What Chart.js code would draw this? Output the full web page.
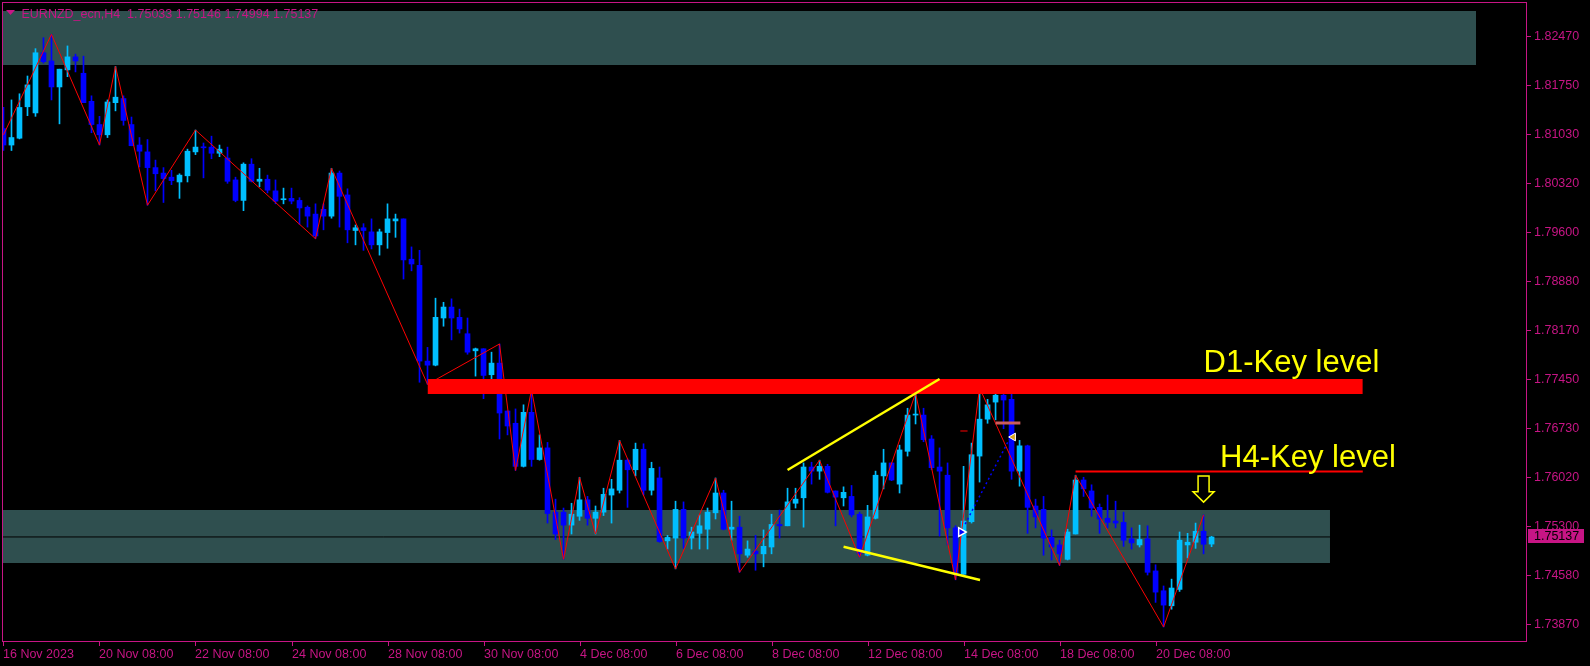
<!DOCTYPE html>
<html>
<head>
<meta charset="utf-8">
<script src="https://cdn.jsdelivr.net/npm/chart.js@4.4.1/dist/chart.umd.min.js"></script>
<style>
  html, body { margin: 0; padding: 0; background: #000; }
  #wrap { width: 1590px; height: 666px; position: relative; }
</style>
</head>
<body>
<div id="wrap"><canvas id="chart" width="1590" height="666"></canvas></div>
<script>
// EURNZD_ecn H4 candles
const opens = [
  1.8111,1.8087,1.8097,1.8143,1.8134,1.8222,1.8210,1.8172,1.8197,1.8216,
  1.8192,1.8151,1.8117,1.8102,1.8149,1.8155,1.8117,1.8087,1.8077,1.8054,
  1.8046,1.8040,1.8033,1.8042,1.8077,1.8084,1.8084,1.8075,1.8068,1.8036,
  1.8006,1.8059,1.8034,1.8037,1.8020,1.8007,1.8009,1.8006,1.7996,1.7986,
  1.7993,1.7983,1.8046,1.8014,1.7962,1.7966,1.7960,1.7941,1.7959,1.7976,
  1.7979,1.7920,1.7911,1.7771,1.7765,1.7834,1.7850,1.7835,1.7811,1.7786,
  1.7789,1.7751,1.7768,1.7698,1.7680,1.7617,1.7696,1.7627,1.7644,1.7550,
  1.7550,1.7531,1.7544,1.7568,1.7541,1.7550,1.7575,1.7582,1.7626,1.7612,
  1.7642,1.7582,1.7600,1.7508,1.7512,1.7554,1.7512,1.7519,1.7525,1.7549,
  1.7578,1.7525,1.7528,1.7487,1.7493,1.7489,1.7499,1.7532,1.7530,1.7563,
  1.7571,1.7616,1.7610,1.7617,1.7581,1.7571,1.7573,1.7547,1.7487,1.7541,
  1.7603,1.7622,1.7591,1.7639,1.7692,1.7692,1.7657,1.7616,1.7604,1.7527,
  1.7459,1.7536,1.7632,1.7686,1.7711,1.7721,1.7715,1.7610,1.7647,1.7559,
  1.7554,1.7513,1.7502,1.7481,1.7518,1.7597,1.7581,1.7557,1.7541,1.7537,
  1.7535,1.7511,1.7502,1.7511,1.7464,1.7435,1.7413,1.7437,1.7502,1.7506,
  1.7522,1.75033
];
const highs = [
  1.8142,1.8153,1.8162,1.8188,1.8228,1.8244,1.8249,1.8198,1.8232,1.8220,
  1.8217,1.8159,1.8129,1.8153,1.8202,1.8159,1.8128,1.8098,1.8095,1.8065,
  1.8054,1.8050,1.8045,1.8081,1.8109,1.8090,1.8100,1.8087,1.8084,1.8040,
  1.8061,1.8067,1.8053,1.8043,1.8036,1.8024,1.8024,1.8010,1.7998,1.8001,
  1.8001,1.8053,1.8049,1.8023,1.7970,1.7972,1.7979,1.7964,1.8001,1.7986,
  1.7979,1.7938,1.7933,1.7791,1.7863,1.7857,1.7862,1.7847,1.7834,1.7790,
  1.7789,1.7784,1.7796,1.7698,1.7701,1.7707,1.7729,1.7663,1.7652,1.7569,
  1.7556,1.7563,1.7601,1.7573,1.7559,1.7585,1.7598,1.7655,1.7628,1.7651,
  1.7650,1.7623,1.7616,1.7516,1.7566,1.7565,1.7528,1.7546,1.7556,1.7600,
  1.7582,1.7566,1.7544,1.7508,1.7516,1.7524,1.7547,1.7553,1.7585,1.7585,
  1.7622,1.7623,1.7626,1.7620,1.7581,1.7587,1.7589,1.7550,1.7560,1.7610,
  1.7642,1.7622,1.7648,1.7702,1.7724,1.7702,1.7662,1.7644,1.7622,1.7530,
  1.7617,1.7651,1.7732,1.7715,1.7727,1.7723,1.7733,1.7655,1.7648,1.7569,
  1.7573,1.7524,1.7509,1.7525,1.7604,1.7601,1.7590,1.7562,1.7575,1.7566,
  1.7550,1.7527,1.7531,1.7530,1.7473,1.7442,1.7452,1.7521,1.7519,1.7534,
  1.7546,1.75146
];
const lows = [
  1.8079,1.8079,1.8096,1.8130,1.8129,1.8207,1.8153,1.8118,1.8187,1.8194,
  1.8149,1.8105,1.8087,1.8098,1.8137,1.8116,1.8086,1.8055,1.7999,1.8020,
  1.8003,1.8029,1.8009,1.8033,1.8073,1.8039,1.8067,1.8070,1.8031,1.8004,
  1.7991,1.8033,1.8026,1.8017,1.8001,1.8001,1.8001,1.7971,1.7967,1.7950,
  1.7963,1.7980,1.7967,1.7944,1.7941,1.7933,1.7935,1.7926,1.7936,1.7952,
  1.7891,1.7903,1.7740,1.7737,1.7764,1.7822,1.7802,1.7812,1.7781,1.7749,
  1.7716,1.7745,1.7657,1.7663,1.7611,1.7616,1.7617,1.7626,1.7534,1.7510,
  1.7481,1.7518,1.7538,1.7531,1.7518,1.7545,1.7534,1.7578,1.7557,1.7603,
  1.7575,1.7575,1.7506,1.7496,1.7467,1.7497,1.7496,1.7496,1.7496,1.7540,
  1.7524,1.7509,1.7462,1.7484,1.7465,1.7470,1.7489,1.7512,1.7530,1.7556,
  1.7528,1.7591,1.7598,1.7578,1.7530,1.7559,1.7543,1.7484,1.7486,1.7540,
  1.7584,1.7596,1.7578,1.7632,1.7679,1.7653,1.7612,1.7515,1.7502,1.7451,
  1.7459,1.7534,1.7594,1.7680,1.7685,1.7672,1.7598,1.7588,1.7519,1.7527,
  1.7487,1.7480,1.7472,1.7480,1.7518,1.7573,1.7544,1.7519,1.7527,1.7527,
  1.7500,1.7496,1.7499,1.7458,1.7418,1.7382,1.7408,1.7434,1.7483,1.7497,
  1.7489,1.74994
];
const closes = [
  1.8087,1.8098,1.8142,1.8175,1.8222,1.8209,1.8172,1.8198,1.8216,1.8210,
  1.8149,1.8117,1.8102,1.8150,1.8157,1.8123,1.8086,1.8078,1.8054,1.8045,
  1.8038,1.8035,1.8043,1.8078,1.8084,1.8083,1.8075,1.8081,1.8034,1.8006,
  1.8059,1.8034,1.8037,1.8021,1.8005,1.8008,1.8005,1.7995,1.7983,1.7954,
  1.7983,1.8046,1.8012,1.7963,1.7966,1.7962,1.7941,1.7960,1.7979,1.7979,
  1.7919,1.7913,1.7771,1.7765,1.7835,1.7850,1.7834,1.7818,1.7784,1.7789,
  1.7750,1.7768,1.7695,1.7676,1.7617,1.7696,1.7627,1.7644,1.7548,1.7518,
  1.7531,1.7547,1.7568,1.7541,1.7550,1.7576,1.7584,1.7626,1.7612,1.7642,
  1.7582,1.7614,1.7507,1.7513,1.7554,1.7512,1.7521,1.7530,1.7550,1.7578,
  1.7525,1.7528,1.7489,1.7496,1.7489,1.7500,1.7532,1.7530,1.7565,1.7569,
  1.7616,1.7610,1.7617,1.7579,1.7572,1.7579,1.7546,1.7489,1.7543,1.7604,
  1.7622,1.7597,1.7641,1.7692,1.7693,1.7656,1.7615,1.7610,1.7527,1.7459,
  1.7537,1.7634,1.7686,1.7707,1.7721,1.7714,1.7610,1.7647,1.7557,1.7543,
  1.7512,1.7499,1.7489,1.7521,1.7597,1.7584,1.7556,1.7540,1.7535,1.7534,
  1.7509,1.7505,1.7510,1.7462,1.7433,1.7414,1.7439,1.7509,1.7506,1.7522,
  1.7503,1.75137
];

// zigzag turning points [bar index, price]
const zigzag = [
  [0,1.8102],[6,1.8249],[12,1.8087],[14,1.8202],[18,1.7999],[24,1.8109],
  [39,1.7950],[41,1.8053],[53,1.7737],[62,1.7796],[64,1.7611],[66,1.7729],
  [70,1.7481],[72,1.7601],[74,1.7518],[77,1.7655],[84,1.7467],[89,1.7600],
  [92,1.7462],[102,1.7626],[107,1.7484],[114,1.7724],[119,1.7451],[122,1.7732],
  [132,1.7472],[134,1.7604],[145,1.7382],[150,1.7546]
];

// zones: [fromBar, toBar, top, bottom]
const upperZone = [-3, 184.06, 1.82831, 1.82041];
const lowerZone = [-3, 165.8, 1.75532, 1.74757];
const d1Band = [53, 169.9, 1.77448, 1.77229];
const h4Level = [134, 169.9, 1.76095];
const wedgeUpper = [[98, 1.76117], [117, 1.77448]];
const wedgeLower = [[105, 1.74995], [122.06, 1.74508]];
const signalDots = [[120.2, 1.75326], [125.8, 1.76584]];
const stopMark = [[124.0, 1.76804], [127.1, 1.76804]];
const smallDash = [[119.6, 1.76687], [120.5, 1.76687]];
const entryArrow = [119.7, 1.75209];
const exitArrow = [126.2, 1.76599];
const downArrow = [150, 1.76027, 1.75647];
const d1Label = ['D1-Key level', 150, 1.77546];
const h4Label = ['H4-Key level', 152.06, 1.76165];

// axis ticks
const yTicks = [1.82470,1.81750,1.81030,1.80320,1.79600,1.78880,1.78170,1.77450,1.76730,1.76020,1.75300,1.74580,1.73870];
const xTickIdx = [0,12,24,36,48,60,72,84,96,108,120,132,144];
const xTickLabels = ['16 Nov 2023','20 Nov 08:00','22 Nov 08:00','24 Nov 08:00','28 Nov 08:00','30 Nov 08:00','4 Dec 08:00','6 Dec 08:00','8 Dec 08:00','12 Dec 08:00','14 Dec 08:00','18 Dec 08:00','20 Dec 08:00'];

const BULL = '#00BFFF';
const BEAR = '#0000FF';
const MAGENTA = '#C71585';
const ZONE = '#2F4F4F';
const FONT = '"Liberation Sans", Arial, sans-serif';

const idx = opens.map((_, i) => i);
const candleColors = idx.map(i => (closes[i] >= opens[i] ? BULL : BEAR));
const last = closes.length - 1;

const seg = (pts) => pts.map(p => ({ x: p[0], y: p[1] }));
const flat = (a, b, v) => [{ x: a, y: v }, { x: b, y: v }];
const noLine = 'rgba(0,0,0,0)';

// =======================================================
// DECORATIONS: frame, axes, title, labels
// =======================================================
const decor = {
  id: 'decor',
  afterDraw(chart) {
    const { ctx, chartArea: a, scales: { x, y } } = chart;
    ctx.save();

    // frame
    ctx.strokeStyle = MAGENTA;
    ctx.lineWidth = 1;
    ctx.strokeRect(2.5, 2.5, a.right - 2, a.bottom - 2);

    // price axis
    ctx.font = `12.5px ${FONT}`;
    ctx.fillStyle = MAGENTA;
    ctx.textAlign = 'left';
    ctx.textBaseline = 'middle';
    yTicks.forEach(v => {
      const py = Math.round(y.getPixelForValue(v)) + 0.5;
      ctx.beginPath();
      ctx.moveTo(a.right + 1, py);
      ctx.lineTo(a.right + 5, py);
      ctx.stroke();
      ctx.fillText(v.toFixed(5), a.right + 8, py + 0.5);
    });

    // current price box
    const cp = y.getPixelForValue(closes[last]);
    ctx.fillStyle = MAGENTA;
    ctx.fillRect(a.right + 2, Math.round(cp) - 8, 56, 14);
    ctx.fillStyle = '#000';
    ctx.fillText(closes[last].toFixed(5), a.right + 8, Math.round(cp) - 0.5);

    // time axis
    ctx.fillStyle = MAGENTA;
    ctx.textBaseline = 'alphabetic';
    xTickIdx.forEach((i, k) => {
      const px = Math.round(x.getPixelForValue(i)) + 0.5;
      ctx.beginPath();
      ctx.moveTo(px, a.bottom + 1);
      ctx.lineTo(px, a.bottom + 5);
      ctx.stroke();
      ctx.fillText(xTickLabels[k], px - 0.5, 658);
    });

    // title
    ctx.beginPath();
    ctx.moveTo(6, 10);
    ctx.lineTo(15, 10);
    ctx.lineTo(10.5, 15);
    ctx.closePath();
    ctx.fill();
    const f = v => v.toFixed(5);
    ctx.font = `12.5px ${FONT}`;
    ctx.fillText(`EURNZD_ecn,H4  ${f(opens[last])} ${f(highs[last])} ${f(lows[last])} ${f(closes[last])}`, 21.5, 17.5);

    // key level captions
    ctx.font = `31px ${FONT}`;
    ctx.fillStyle = '#FFFF00';
    [d1Label, h4Label].forEach(([t, i, p]) => {
      ctx.fillText(t, x.getPixelForValue(i), y.getPixelForValue(p));
    });

    // hollow down arrow
    const ax = x.getPixelForValue(downArrow[0]);
    const top = y.getPixelForValue(downArrow[1]);
    const tip = y.getPixelForValue(downArrow[2]);
    const neck = top + (tip - top) * 0.6;
    ctx.beginPath();
    ctx.moveTo(ax - 5.5, top);
    ctx.lineTo(ax + 5.5, top);
    ctx.lineTo(ax + 5.5, neck);
    ctx.lineTo(ax + 10.5, neck);
    ctx.lineTo(ax, tip);
    ctx.lineTo(ax - 10.5, neck);
    ctx.lineTo(ax - 5.5, neck);
    ctx.closePath();
    ctx.fillStyle = '#000';
    ctx.fill();
    ctx.strokeStyle = '#FFFF00';
    ctx.lineWidth = 1.5;
    ctx.stroke();

    ctx.restore();
  }
};

const chart = new Chart(document.getElementById('chart').getContext('2d'), {
  type: 'bar',
  data: {
    datasets: [
      // zones at the back
      {
        type: 'line', data: flat(upperZone[0], upperZone[1], upperZone[2]),
        fill: { value: upperZone[3] }, backgroundColor: ZONE,
        borderColor: noLine, borderWidth: 0, pointRadius: 0, order: 20
      },
      {
        type: 'line', data: flat(lowerZone[0], lowerZone[1], lowerZone[2]),
        fill: { value: lowerZone[3] }, backgroundColor: ZONE,
        borderColor: noLine, borderWidth: 0, pointRadius: 0, order: 20
      },
      // bid line
      {
        type: 'line', data: flat(-3, 200, closes[last]),
        borderColor: '#000', borderWidth: 1, pointRadius: 0, fill: false, order: 19
      },
      // wicks
      {
        type: 'bar', data: idx.map(i => ({ x: i, y: [lows[i], highs[i]] })),
        backgroundColor: candleColors, barThickness: 1, grouped: false,
        minBarLength: 1, borderWidth: 0, order: 12
      },
      // bodies
      {
        type: 'bar', data: idx.map(i => ({ x: i, y: [opens[i], closes[i]] })),
        backgroundColor: candleColors, barThickness: 5, grouped: false,
        minBarLength: 1, borderWidth: 0, order: 11
      },
      // D1 band over the candles
      {
        type: 'line', data: flat(d1Band[0], d1Band[1], d1Band[2]),
        fill: { value: d1Band[3] }, backgroundColor: '#FF0000',
        borderColor: noLine, borderWidth: 0, pointRadius: 0, order: 8
      },
      // H4 level
      {
        type: 'line', data: flat(h4Level[0], h4Level[1], h4Level[2]),
        borderColor: '#FF0000', borderWidth: 2, pointRadius: 0, fill: false, order: 7
      },
      // zigzag
      {
        type: 'line', data: seg(zigzag),
        borderColor: '#FF0000', borderWidth: 1, pointRadius: 0, fill: false, tension: 0, order: 6
      },
      // wedge lines
      {
        type: 'line', data: seg(wedgeUpper),
        borderColor: '#FFFF00', borderWidth: 2.5, pointRadius: 0, fill: false, order: 5
      },
      {
        type: 'line', data: seg(wedgeLower),
        borderColor: '#FFFF00', borderWidth: 2.5, pointRadius: 0, fill: false, order: 5
      },
      // signal markers
      {
        type: 'line', data: seg(signalDots),
        borderColor: '#0000FF', borderWidth: 1.5, borderDash: [2, 3], pointRadius: 0, fill: false, order: 4
      },
      {
        type: 'line', data: seg(stopMark),
        borderColor: '#CD5C5C', borderWidth: 3, pointRadius: 0, fill: false, order: 4
      },
      {
        type: 'line', data: seg(smallDash),
        borderColor: '#FF0000', borderWidth: 1, pointRadius: 0, fill: false, order: 4
      },
      {
        type: 'line', data: [{ x: entryArrow[0], y: entryArrow[1] }], showLine: false,
        pointStyle: 'triangle', rotation: 90, pointRadius: 5,
        pointBackgroundColor: '#0000FF', pointBorderColor: '#FFFFFF', pointBorderWidth: 1.5, order: 2
      },
      {
        type: 'line', data: [{ x: exitArrow[0], y: exitArrow[1] }], showLine: false,
        pointStyle: 'triangle', rotation: -90, pointRadius: 4.5,
        pointBackgroundColor: '#DAA520', pointBorderColor: '#FFFFFF', pointBorderWidth: 1, order: 2
      }
    ]
  },
  options: {
    responsive: false,
    devicePixelRatio: 1,
    animation: false,
    events: [],
    layout: { autoPadding: false, padding: { left: 3, top: 3, right: 64, bottom: 25 } },
    scales: {
      x: { type: 'linear', min: -0.06, max: 190.3, display: false, offset: false },
      y: { type: 'linear', min: 1.73615, max: 1.82948, display: false }
    },
    plugins: {
      legend: { display: false },
      tooltip: { enabled: false }
    }
  },
  plugins: [decor]
});
</script>
</body>
</html>
